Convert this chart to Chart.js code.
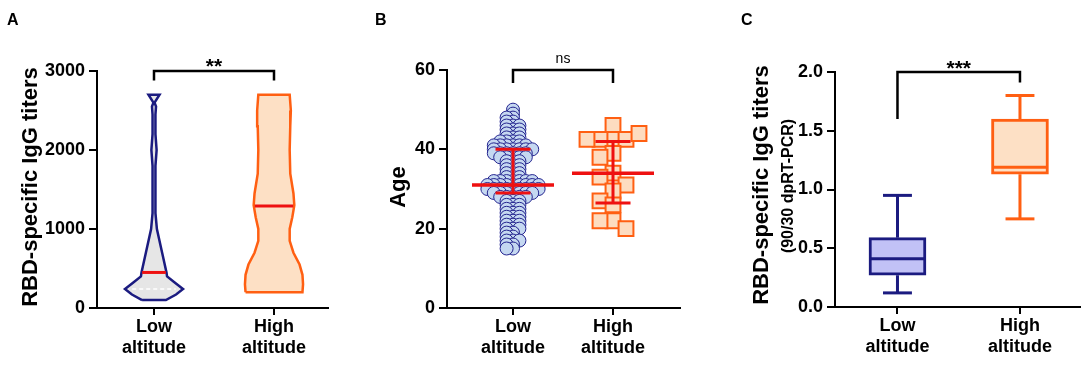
<!DOCTYPE html>
<html>
<head>
<meta charset="utf-8">
<script src="https://cdn.jsdelivr.net/npm/chart.js@4.4.0/dist/chart.umd.min.js"></script>
<style>
body { margin: 0; background: #fff; }
#wrap { position: relative; width: 1084px; height: 370px; }
.panel { position: absolute; top: 0; height: 370px; }
</style>
</head>
<body>
<div id="wrap">
  <div class="panel" style="left:0;width:340px"><canvas id="chartA" width="340" height="370"></canvas></div>
  <div class="panel" style="left:350px;width:350px"><canvas id="chartB" width="350" height="370"></canvas></div>
  <div class="panel" style="left:720px;width:364px"><canvas id="chartC" width="364" height="370"></canvas></div>
</div>
<script>
// groups
var catPos = [1, 2];
var catLabels = [['Low', 'altitude'], ['High', 'altitude']];

// A: violin (level -> relative density)
var lowLevels = [100, 170, 240, 330, 400, 450, 700, 1000, 1200, 1500, 1800, 2000, 2200, 2450, 2550, 2600, 2700];
var lowDensity = [0.41, 0.76, 1.0, 0.69, 0.45, 0.43, 0.28, 0.10, 0.05, 0.05, 0.05, 0.09, 0.05, 0.05, 0.07, 0.02, 0.19];
var highLevels = [200, 300, 420, 550, 700, 850, 1000, 1150, 1300, 1450, 1700, 2000, 2300, 2500, 2700];
var highDensity = [0.98, 1.0, 0.98, 0.88, 0.67, 0.54, 0.54, 0.63, 0.70, 0.67, 0.56, 0.54, 0.56, 0.58, 0.54];
var titerMedian = [450, 1290];
var titerQ1Low = 240;

// B: ages
var ageLow = [50, 49, 48, 48, 47, 47, 46, 46, 46, 45, 45, 45, 44, 44, 44, 43, 43, 43, 42, 42, 42, 42,
  41, 41, 41, 41, 41, 41, 40, 40, 40, 40, 40, 40, 40, 39, 39, 39, 39, 39, 39, 38, 38, 38, 38, 38,
  37, 37, 37, 36, 36, 36, 35, 35, 35, 34, 34, 34, 33, 33, 33,
  32, 32, 32, 32, 32, 32, 32, 31, 31, 31, 31, 31, 31, 31, 31, 31, 30, 30, 30, 30, 30, 30, 30, 30, 30,
  29, 29, 29, 29, 29, 29, 29, 28, 28, 28, 28, 28,
  27, 27, 27, 26, 26, 26, 25, 25, 25, 24, 24, 24, 23, 23, 23, 22, 22, 22, 21, 21, 21, 20, 20, 20,
  19, 19, 18, 18, 17, 17, 17, 16, 16, 15, 15];
var ageHigh = [46, 42.5, 42.5, 42.5, 42.5, 44, 39, 38, 34, 33, 31, 29.5, 27, 26, 22, 22, 20];
var ageMedian = [31, 34];
var ageQ1 = [29, 26.5];
var ageQ3 = [40, 42];

// C: box plot
var boxMin = [0.12, 0.75];
var boxQ1 = [0.27, 1.13];
var boxMedian = [0.41, 1.19];
var boxQ3 = [0.59, 1.60];
var boxMax = [0.95, 1.80];

var fam = '"Liberation Sans", Arial, Helvetica, sans-serif';
Chart.defaults.font.family = fam;
Chart.defaults.color = '#000';

var navy = '#1b1b80', orange = '#ff5f12', red = '#ee1111';

function seg(x1, y1, x2, y2, color, width, order, dash) {
    return {
        type: 'scatter',
        data: [{ x: x1, y: y1 }, { x: x2, y: y2 }],
        showLine: true,
        borderColor: color,
        borderWidth: width,
        borderDash: dash || [],
        pointRadius: 0,
        pointHoverRadius: 0,
        fill: false,
        order: order
    };
}

function interp(levels, dens, v) {
    for (var i = 1; i < levels.length; i++) {
        if (v <= levels[i]) {
            var t = (v - levels[i - 1]) / (levels[i] - levels[i - 1]);
            return dens[i - 1] + t * (dens[i] - dens[i - 1]);
        }
    }
    return dens[dens.length - 1];
}

function violinShape(c, levels, dens, half) {
    var left = levels.map(function(v, i) { return { x: c - dens[i] * half, y: v }; });
    var right = levels.map(function(v, i) { return { x: c + dens[i] * half, y: v }; }).reverse();
    var pts = left.concat(right);
    pts.push(pts[0]);
    return pts;
}

// simple beeswarm: put each point in the first free slot (0, -1, +1, -2, +2 ...)
function swarm(values, c, step, minGap) {
    var placed = [];
    return values.map(function(v) {
        var n = 0;
        while (true) {
            var slot = n === 0 ? 0 : (n % 2 ? -Math.ceil(n / 2) : n / 2);
            var hit = placed.some(function(p) { return p.slot === slot && Math.abs(p.v - v) < minGap; });
            if (!hit) {
                placed.push({ slot: slot, v: v });
                return { x: c + slot * step, y: v };
            }
            n++;
        }
    });
}

function baseOptions(p) {
    return {
        responsive: false,
        animation: false,
        events: [],
        layout: { padding: { top: p.top, right: p.right, left: 0, bottom: 0 } },
        plugins: { legend: { display: false }, tooltip: { enabled: false } },
        scales: {
            x: {
                type: 'linear',
                min: p.xMin,
                max: p.xMax,
                offset: false,
                afterBuildTicks: function(axis) {
                    axis.ticks = catPos.map(function(v) { return { value: v }; });
                },
                afterFit: function(axis) { axis.height = p.xHeight; },
                ticks: {
                    autoSkip: false,
                    maxRotation: 0,
                    padding: 1,
                    font: { size: 18, weight: 'bold', lineHeight: 1.2 },
                    callback: function(v) { return catLabels[catPos.indexOf(v)]; }
                },
                grid: { offset: false, drawOnChartArea: false, tickLength: 7, color: '#000', lineWidth: 2 },
                border: { display: true, color: '#000', width: 2 }
            },
            y: {
                type: 'linear',
                min: p.yMin,
                max: p.yMax,
                afterFit: function(axis) { axis.width = p.yWidth; },
                ticks: {
                    stepSize: p.yStep,
                    padding: 4,
                    font: { size: 18, weight: 'bold' },
                    callback: p.yFmt
                },
                grid: { drawOnChartArea: false, tickLength: 8, color: '#000', lineWidth: 2 },
                border: { display: true, color: '#000', width: 2 }
            }
        }
    };
}

function deco(o) {
    return {
        id: 'deco' + o.letter,
        afterDraw: function(chart) {
            var ctx = chart.ctx, xs = chart.scales.x, ys = chart.scales.y;
            ctx.save();
            ctx.fillStyle = '#000';
            ctx.textBaseline = 'alphabetic';
            ctx.textAlign = 'left';
            ctx.font = 'bold 16px ' + fam;
            ctx.fillText(o.letter, o.letterX, 25);

            o.titles.forEach(function(t) {
                ctx.save();
                ctx.translate(t.x, t.cy);
                ctx.rotate(-Math.PI / 2);
                ctx.font = 'bold ' + t.size + 'px ' + fam;
                ctx.textAlign = 'center';
                ctx.fillText(t.text, 0, 0);
                ctx.restore();
            });

            var b = o.bracket;
            var x1 = xs.getPixelForValue(catPos[0]), x2 = xs.getPixelForValue(catPos[1]);
            var yt = ys.getPixelForValue(b.top);
            ctx.strokeStyle = '#000';
            ctx.lineWidth = 2.5;
            ctx.beginPath();
            ctx.moveTo(x1, ys.getPixelForValue(b.left));
            ctx.lineTo(x1, yt);
            ctx.lineTo(x2, yt);
            ctx.lineTo(x2, ys.getPixelForValue(b.right));
            ctx.stroke();
            ctx.font = b.font;
            ctx.textAlign = 'center';
            ctx.fillText(b.label, (x1 + x2) / 2, yt + b.dy);
            ctx.restore();
        }
    };
}

// ---------- A ----------
var violinHalf = 0.242;
var dsA = [
    {
        type: 'scatter', data: violinShape(catPos[0], lowLevels, lowDensity, violinHalf),
        showLine: true, fill: 'shape', backgroundColor: '#e6e6e6', borderColor: navy, borderWidth: 2.5,
        pointRadius: 0, order: 3
    },
    {
        type: 'scatter', data: violinShape(catPos[1], highLevels, highDensity, violinHalf),
        showLine: true, fill: 'shape', backgroundColor: '#fde0c5', borderColor: orange, borderWidth: 2.5,
        pointRadius: 0, order: 3
    }
];
[[lowLevels, lowDensity], [highLevels, highDensity]].forEach(function(v, i) {
    var w = interp(v[0], v[1], titerMedian[i]) * violinHalf * 0.95;
    dsA.push(seg(catPos[i] - w, titerMedian[i], catPos[i] + w, titerMedian[i], red, 3, 1));
});
var wq = interp(lowLevels, lowDensity, titerQ1Low) * violinHalf * 0.75;
dsA.push(seg(catPos[0] - wq, titerQ1Low, catPos[0] + wq, titerQ1Low, '#ffffff', 1.5, 1, [4, 3]));

new Chart(document.getElementById('chartA'), {
    type: 'scatter',
    data: { datasets: dsA },
    options: baseOptions({
        top: 71, right: 12, xHeight: 62, yWidth: 97,
        xMin: 0.525, xMax: 2.45, yMin: 0, yMax: 3000, yStep: 1000,
        yFmt: function(v) { return String(v); }
    }),
    plugins: [deco({
        letter: 'A', letterX: 7,
        titles: [{ text: 'RBD-specific IgG titers', x: 37, cy: 187, size: 22 }],
        bracket: { top: 3000, left: 2880, right: 2880, label: '**', font: 'bold 21px ' + fam, dy: 2 }
    })]
});

// ---------- B ----------
var dsB = [
    {
        type: 'scatter', data: swarm(ageLow, catPos[0], 0.064, 0.5),
        pointRadius: 6.5, borderWidth: 1, backgroundColor: '#c5d8f1', borderColor: '#24248f', order: 2
    },
    {
        type: 'scatter', data: swarm(ageHigh, catPos[1], 0.13, 3.3),
        pointStyle: 'rect', pointRadius: 10.5, borderWidth: 2, backgroundColor: '#fddcc0', borderColor: orange, order: 2
    }
];
catPos.forEach(function(c, i) {
    dsB.push(seg(c - 0.41, ageMedian[i], c + 0.41, ageMedian[i], red, 3.5, 0));
    dsB.push(seg(c, ageQ1[i], c, ageQ3[i], red, 3, 0));
    dsB.push(seg(c - 0.175, ageQ1[i], c + 0.175, ageQ1[i], red, 3, 0));
    dsB.push(seg(c - 0.175, ageQ3[i], c + 0.175, ageQ3[i], red, 3, 0));
});

new Chart(document.getElementById('chartB'), {
    type: 'scatter',
    data: { datasets: dsB },
    options: baseOptions({
        top: 70, right: 20, xHeight: 62, yWidth: 97,
        xMin: 0.34, xMax: 2.67, yMin: 0, yMax: 60, yStep: 20,
        yFmt: function(v) { return String(v); }
    }),
    plugins: [deco({
        letter: 'B', letterX: 25,
        titles: [{ text: 'Age', x: 55, cy: 187, size: 22 }],
        bracket: { top: 60, left: 56.7, right: 56.7, label: 'ns', font: '14px ' + fam, dy: -7 }
    })]
});

// ---------- C ----------
var boxLine = [navy, orange];
var boxFill = ['#c2c2f6', '#fde0c5'];
var dsC = [{
    type: 'bar',
    data: catPos.map(function(c, i) { return { x: c, y: [boxQ1[i], boxQ3[i]] }; }),
    backgroundColor: boxFill,
    borderColor: boxLine,
    borderWidth: 3,
    borderSkipped: false,
    barThickness: 57,
    grouped: false,
    order: 2
}];
catPos.forEach(function(c, i) {
    dsC.push(seg(c, boxQ3[i], c, boxMax[i], boxLine[i], 3, 1));
    dsC.push(seg(c, boxQ1[i], c, boxMin[i], boxLine[i], 3, 1));
    dsC.push(seg(c - 0.118, boxMax[i], c + 0.118, boxMax[i], boxLine[i], 3, 1));
    dsC.push(seg(c - 0.118, boxMin[i], c + 0.118, boxMin[i], boxLine[i], 3, 1));
    dsC.push(seg(c - 0.22, boxMedian[i], c + 0.22, boxMedian[i], boxLine[i], 3, 0));
});

new Chart(document.getElementById('chartC'), {
    type: 'scatter',
    data: { datasets: dsC },
    options: baseOptions({
        top: 72, right: 4, xHeight: 63, yWidth: 115,
        xMin: 0.49, xMax: 2.49, yMin: 0, yMax: 2, yStep: 0.5,
        yFmt: function(v) { return v.toFixed(1); }
    }),
    plugins: [deco({
        letter: 'C', letterX: 21,
        titles: [
            { text: 'RBD-specific IgG titers', x: 48, cy: 185, size: 22 },
            { text: '(90/30 dpRT-PCR)', x: 73, cy: 186, size: 16 }
        ],
        bracket: { top: 2.0, left: 1.6, right: 1.91, label: '***', font: 'bold 21px ' + fam, dy: 3 }
    })]
});
</script>
</body>
</html>
